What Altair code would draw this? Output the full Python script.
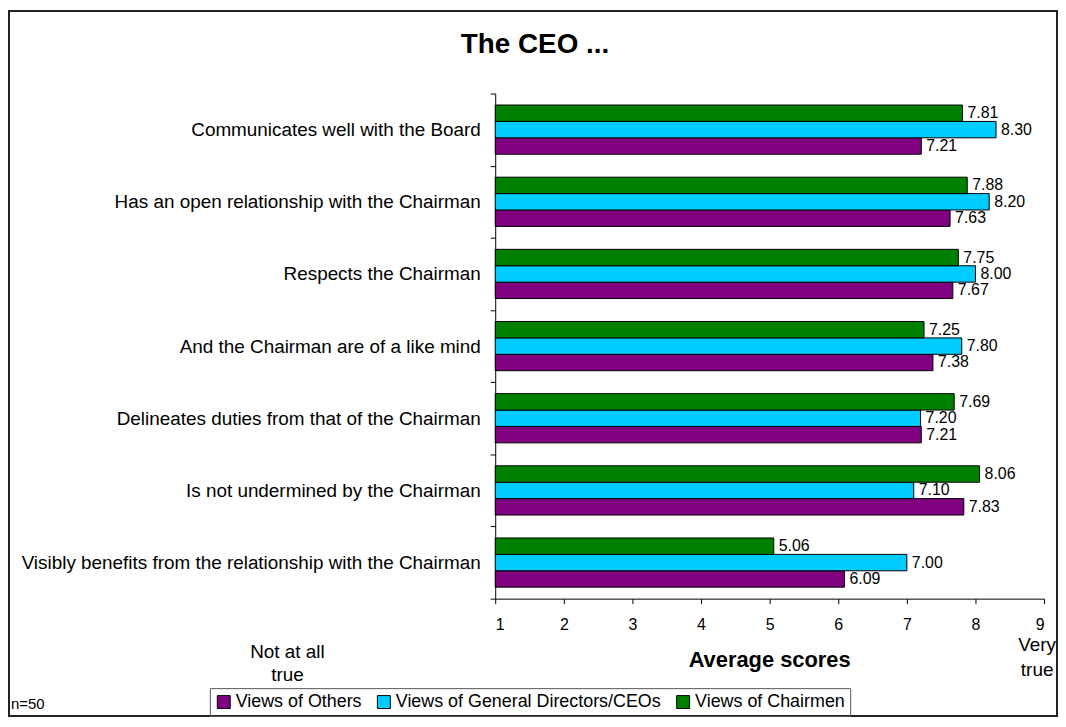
import altair as alt
import pandas as pd

categories = [
    "Communicates well with the Board",
    "Has an open relationship with the Chairman",
    "Respects the Chairman",
    "And the Chairman are of a like mind",
    "Delineates duties from that of the Chairman",
    "Is not undermined by the Chairman",
    "Visibly benefits from the relationship with the Chairman",
]
series = ["Views of Others", "Views of General Directors/CEOs", "Views of Chairmen"]
others = [7.21, 7.63, 7.67, 7.38, 7.21, 7.83, 6.09]
ceos = [8.30, 8.20, 8.00, 7.80, 7.20, 7.10, 7.00]
chairmen = [7.81, 7.88, 7.75, 7.25, 7.69, 8.06, 5.06]
colors = ["#800080", "#00CCFF", "#008000"]
x_ticks = [1, 2, 3, 4, 5, 6, 7, 8, 9]

rows = []
for s, vals in zip(series, [others, ceos, chairmen]):
    for c, v in zip(categories, vals):
        rows.append({"category": c, "series": s, "value": v})
df = pd.DataFrame(rows)

FONT = "Liberation Sans"
W, H = 552, 508

y_enc = alt.Y(
    "category:N",
    sort=categories,
    scale=alt.Scale(paddingInner=0, paddingOuter=0),
    axis=alt.Axis(
        title=None, tickBand="extent", labelFontSize=19, labelColor="black",
        labelFont=FONT, tickSize=5, tickColor="black", domainColor="black",
        labelPadding=10, labelLimit=600,
    ),
)
yoff = alt.YOffset(
    "series:N",
    sort=list(reversed(series)),
    scale=alt.Scale(domain=list(reversed(series)), paddingInner=0, paddingOuter=0.7),
)
x_enc = alt.X(
    "value:Q",
    scale=alt.Scale(domain=[1, 9], zero=False, nice=False),
    axis=alt.Axis(
        title=None, values=x_ticks, format="d", grid=False, labelFontSize=16,
        labelColor="black", labelFont=FONT, tickSize=5, tickColor="black",
        domainColor="black", labelPadding=13,
    ),
)

base = alt.Chart(df)
bars = base.mark_bar(stroke="black", strokeWidth=1).encode(
    y=y_enc,
    yOffset=yoff,
    x=x_enc,
    x2=alt.datum(1),
    color=alt.Color(
        "series:N",
        scale=alt.Scale(domain=series, range=colors),
        legend=alt.Legend(
            title=None, orient="none", direction="horizontal", legendX=-287, legendY=598,
            symbolType="square", symbolSize=169, symbolStrokeColor="black",
            symbolStrokeWidth=1, labelFontSize=18, labelFont=FONT, labelColor="black",
            strokeColor="#555555", padding=5, columnPadding=13,
            labelOffset=3, labelLimit=500,
        ),
    ),
)
labels = base.mark_text(align="left", baseline="middle", dx=5, fontSize=16, font=FONT, color="black").encode(
    y=alt.Y("category:N", sort=categories),
    yOffset=yoff,
    x=alt.X("value:Q"),
    text=alt.Text("value:Q", format=".2f"),
)


def note(text, x, y, size=19, bold=False, align="center"):
    return alt.Chart(pd.DataFrame({"t": [text]})).mark_text(
        fontSize=size, font=FONT, fontWeight="bold" if bold else "normal",
        align=align, baseline="alphabetic", color="black",
    ).encode(text="t:N", x=alt.value(x), y=alt.value(y))


notes = [
    note("The CEO ...", 40, -41, size=28, bold=True),
    note("Average scores", 276, 577, size=22, bold=True),
    note("Not at all", -209, 568),
    note("true", -209, 591),
    note("Very", 545, 561),
    note("true", 545, 586),
    note("n=50", -487, 619, size=15, align="left"),
]

frame = alt.Chart(pd.DataFrame({"t": [0]})).mark_rect(
    fill=None, stroke="#222222", strokeWidth=2
).encode(x=alt.value(-489), x2=alt.value(565), y=alt.value(-83), y2=alt.value(626))

chart = alt.layer(frame, bars, labels, *notes).properties(
    width=W, height=H,
    autosize=alt.AutoSizeParams(type="none"),
    padding={"left": 490, "top": 84, "right": 14, "bottom": 119},
).configure(font=FONT).configure_view(strokeWidth=0, stroke="transparent")

chart.save("out.html", embed_options={"renderer": "svg", "actions": False})
